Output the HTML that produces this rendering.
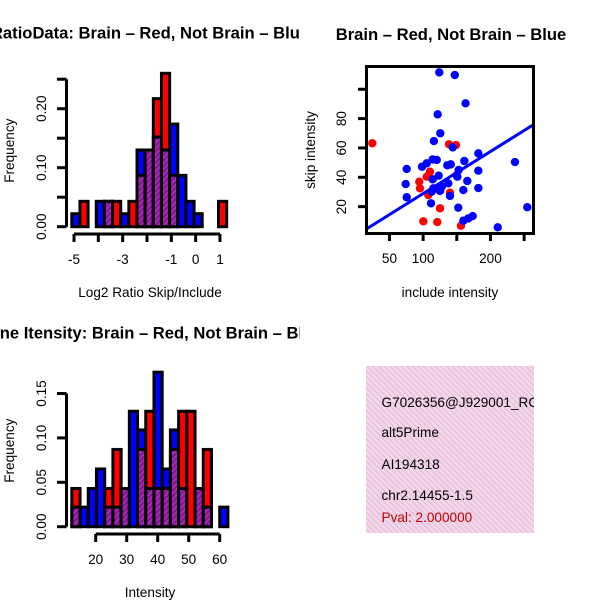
<!DOCTYPE html>
<html><head><meta charset="utf-8"><style>
html,body{margin:0;padding:0;background:#fff}
svg{display:block;font-family:"Liberation Sans",sans-serif}
</style></head><body>
<svg id="s" width="600" height="600" viewBox="0 0 600 600" xmlns="http://www.w3.org/2000/svg">
<defs>
<pattern id="hatch" width="4" height="4" patternUnits="userSpaceOnUse" patternTransform="rotate(45)">
<rect width="4" height="4" fill="#a82ab8"/><rect width="2" height="4" fill="#82168f"/>
</pattern>
<pattern id="pink" width="4" height="4" patternUnits="userSpaceOnUse" patternTransform="rotate(-45)">
<rect width="4" height="4" fill="#f9d4f0"/><rect width="1.4" height="4" fill="#dcc6d2"/>
</pattern>
<clipPath id="leftclip"><rect x="0" y="0" width="300" height="600"/></clipPath>
</defs>
<g clip-path="url(#leftclip)">
<g id="g1"></g>
<g id="g3"></g>
</g>
<g id="g2"></g>
<g>
<rect x="366" y="366" width="168" height="167" fill="url(#pink)"/>
<svg x="366" y="366" width="168" height="167" overflow="hidden">
<g font-size="13.6" fill="#000">
<text x="15.5" y="41">G7026356@J929001_RC</text>
<text x="15.5" y="71">alt5Prime</text>
<text x="15.5" y="103">AI194318</text>
<text x="15.5" y="134">chr2.14455-1.5</text>
<text x="15.5" y="156" fill="#c00000">Pval: 2.000000</text>
</g></svg>
</g>
</svg>
<script>
// Ratio histogram data
const ratioBlue = [0.022,0,0,0.043,0.043,0,0.022,0,0.13,0.13,0.152,0.13,0.174,0.087,0.043,0.022,0,0,0];
const ratioRed  = [0,0.043,0,0,0.043,0.043,0,0.043,0.087,0.13,0.217,0.26,0.087,0,0,0,0,0,0.043];
const ratioBreakStart = -5.09, ratioBinWidth = 0.335;
const ratioXTicks = [-5,-4,-3,-2,-1,0,1];
const ratioXLabels = ["-5","","-3","","-1","0","1"];
const ratioYTicks = [0,0.05,0.1,0.15,0.2,0.25];
const ratioYLabels = ["0.00","","0.10","","0.20",""];
// Intensity histogram data
const intBlue = [0.022,0.022,0.043,0.065,0.022,0.022,0.043,0.13,0.109,0.043,0.174,0.065,0.109,0.043,0,0.043,0.022,0,0.022];
const intRed  = [0.043,0,0,0,0.043,0.087,0.043,0,0.087,0.13,0.043,0.043,0.087,0.13,0.13,0.043,0.087,0,0];
const intBreakStart = 12.3, intBinWidth = 2.65;
const intXTicks = [20,30,40,50,60];
const intXLabels = ["20","30","40","50","60"];
const intYTicks = [0,0.05,0.1,0.15];
const intYLabels = ["0.00","0.05","0.10","0.15"];
// Scatter data
const blueX = [124,147,163,121.6,125.5,116,144,182,75.6,98.3,105.3,114.2,120.2,135.9,141,161.2,152.8,182,150.8,165.6,74.1,114.2,123.1,137.4,75.6,111.7,139.9,159.7,182,152.2,120.2,127.6,112.7,236.4,254.7,210.8,159.7,167.1,173.6,125.1,115.1];
const blueY = [111.5,109.7,90.4,82.9,70,64.7,60.4,56.3,45.7,47.2,49.5,52.2,51.8,48.2,48.8,51.1,45,44.5,40.4,37.5,35.4,38.6,41.1,35.9,26.4,22.3,27.3,31.3,32.7,19.3,32.5,33.6,30.2,50.4,19.6,5.9,10.4,12,13.6,30.7,32.5];
const redX = [24.5,138.4,148.8,110.2,94.3,95.3,107.7,125.1,100.3,121,156.2,105.3,139.9,149.9];
const redY = [63.2,62.5,62,43.8,37,32.5,27.9,18.9,10,9.5,7,40.4,29.5,41.6];
const fitLine = [0.27,0.2865]; // intercept, slope
const scXTicks = [50,100,150,200,250];
const scXLabels = ["50","100","","200",""];
const scYTicks = [20,40,60,80,100];
const scYLabels = ["20","40","60","80",""];

const NS="http://www.w3.org/2000/svg";
function el(parent,tag,attrs){const e=document.createElementNS(NS,tag);for(const k in attrs)e.setAttribute(k,attrs[k]);parent.appendChild(e);return e;}
const TF=16.6, LF=13.6;

function hist(g,blue,red,start,bw,xs,ys,xT,xL,yT,yL,title,xlab,yTop){
  const sx=v=>xs[0]+(v-xs[1])*xs[2];
  const sy=v=>ys[0]-v*ys[1];
  for(let i=0;i<blue.length;i++){
    const b=blue[i],r=red[i];
    const x0=sx(start+i*bw),x1=sx(start+(i+1)*bw);
    const mx=Math.max(b,r),mn=Math.min(b,r);
    if(mx>0){
      const rc=el(g,'rect',{x:x0,y:sy(mx),width:x1-x0,height:sy(0)-sy(mx),fill:b>=r?'#0000ff':'#ff0000',stroke:'#000','stroke-width':3});
      
      
    }
    if(mn>0){
      const pc=el(g,'rect',{x:x0,y:sy(mn),width:x1-x0,height:sy(0)-sy(mn),fill:'url(#hatch)',stroke:'#000','stroke-width':3});
      
      
    }
  }
  const ya=el(g,'line',{x1:66.5,x2:66.5,y1:sy(yT[0]),y2:sy(yT[yT.length-1]),stroke:'#000','stroke-width':3});
  
  
  yT.forEach((v,i)=>{
    el(g,'line',{x1:57,x2:66.5,y1:sy(v),y2:sy(v),stroke:'#000','stroke-width':3});
    if(yL[i]){const t=el(g,'text',{x:0,y:0,'font-size':LF,'text-anchor':'middle',transform:`translate(46,${sy(v)}) rotate(-90)`});t.textContent=yL[i];
      
      }
  });
  const xy=yTop;
  const xa=el(g,'line',{x1:sx(xT[0]),x2:sx(xT[xT.length-1]),y1:xy,y2:xy,stroke:'#000','stroke-width':3});
  
  
  xT.forEach((v,i)=>{
    el(g,'line',{x1:sx(v),x2:sx(v),y1:xy,y2:xy+8,stroke:'#000','stroke-width':3});
    if(xL[i]){const t=el(g,'text',{x:sx(v),y:xy+30,'font-size':LF,'text-anchor':'middle'});t.textContent=xL[i];
      
      }
  });
  const tt=el(g,'text',{x:150,y:sy(0)-188,'font-size':TF,'font-weight':'bold','text-anchor':'middle'});tt.textContent=title;
  
  
  const xl=el(g,'text',{x:150,y:xy+63,'font-size':LF,'text-anchor':'middle'});xl.textContent=xlab;
  
  
  const yl=el(g,'text',{x:0,y:0,'font-size':LF,'text-anchor':'middle',transform:`translate(14,${sy(0)-76}) rotate(-90)`});yl.textContent='Frequency';
  
  
}
hist(document.getElementById('g1'),ratioBlue,ratioRed,ratioBreakStart,ratioBinWidth,[74,-5,24.33],[226.7,590],ratioXTicks,ratioXLabels,ratioYTicks,ratioYLabels,'RatioData: Brain \u2013 Red, Not Brain \u2013 Blue','Log2 Ratio Skip/Include',234);
hist(document.getElementById('g3'),intBlue,intRed,intBreakStart,intBinWidth,[95.7,20,3.1],[526.7,888],intXTicks,intXLabels,intYTicks,intYLabels,'Gene Itensity: Brain \u2013 Red, Not Brain \u2013 Blue','Intensity',534);

(function(){
  const g=document.getElementById('g2');
  const sx=v=>355.8+v*0.6733, sy=v=>236-v*1.4675;
  const clip=el(g,'clipPath',{id:'scclip'});el(clip,'rect',{x:366,y:66,width:168,height:167});
  const pts=el(g,'g',{'clip-path':'url(#scclip)'});
  redX.forEach((x,i)=>{const c=el(pts,'circle',{cx:sx(x),cy:sy(redY[i]),r:4.2,fill:'#ff0000'});
    
    });
  blueX.forEach((x,i)=>{const c=el(pts,'circle',{cx:sx(x),cy:sy(blueY[i]),r:4.2,fill:'#0000ff'});
    
    });
  const ln=el(pts,'line',{x1:sx(0),y1:sy(fitLine[0]),x2:sx(300),y2:sy(fitLine[0]+fitLine[1]*300),stroke:'#0000ff','stroke-width':3});
  
  
  const bx=el(g,'rect',{x:366.5,y:66.5,width:167,height:167,fill:'none',stroke:'#000','stroke-width':3});
  
  
  scXTicks.forEach((v,i)=>{el(g,'line',{x1:sx(v),x2:sx(v),y1:233,y2:241,stroke:'#000','stroke-width':3});
    if(scXLabels[i]){const t=el(g,'text',{x:sx(v),y:263,'font-size':LF,'text-anchor':'middle'});t.textContent=scXLabels[i];
      
      }});
  scYTicks.forEach((v,i)=>{el(g,'line',{x1:358,x2:366,y1:sy(v),y2:sy(v),stroke:'#000','stroke-width':3});
    if(scYLabels[i]){const t=el(g,'text',{x:0,y:0,'font-size':LF,'text-anchor':'middle',transform:`translate(346,${sy(v)}) rotate(-90)`});t.textContent=scYLabels[i];
      
      }});
  const tt=el(g,'text',{x:451,y:40,'font-size':TF,'font-weight':'bold','text-anchor':'middle'});tt.textContent='Brain \u2013 Red, Not Brain \u2013 Blue';
  
  
  const xl=el(g,'text',{x:450,y:297,'font-size':LF,'text-anchor':'middle'});xl.textContent='include intensity';
  
  
  const yl=el(g,'text',{x:0,y:0,'font-size':LF,'text-anchor':'middle',transform:'translate(315,150) rotate(-90)'});yl.textContent='skip intensity';
  
  
})();
</script>
</body></html>
